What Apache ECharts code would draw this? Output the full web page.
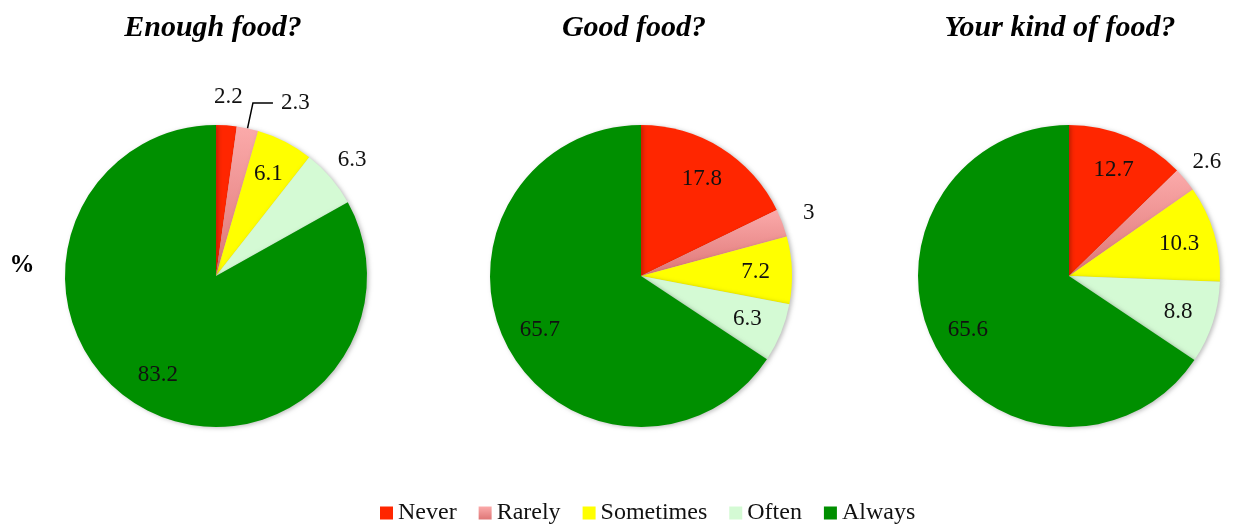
<!DOCTYPE html>
<html>
<head>
<meta charset="utf-8">
<script src="https://cdn.jsdelivr.net/npm/echarts@6/dist/echarts.min.js"></script>
<style>
html, body { margin: 0; padding: 0; background: #fff; }
#chart { width: 1234px; height: 526px; }
</style>
</head>
<body>
<div id="chart"></div>
<script>
// data
const categories = ['Never', 'Rarely', 'Sometimes', 'Often', 'Always'];
const titles = ['Enough food?', 'Good food?', 'Your kind of food?'];
const enoughFood = [2.2, 2.3, 6.1, 6.3, 83.2];
const goodFood = [17.8, 3, 7.2, 6.3, 65.7];
const kindOfFood = [12.7, 2.6, 10.3, 8.8, 65.6];
// where each value label goes: in = inside slice, out = outside, line = outside with leader line
const enoughLabels = ['out', 'line', 'in', 'out', 'in'];
const goodLabels = ['in', 'out', 'in', 'in', 'in'];
const kindLabels = ['in', 'out', 'in', 'in', 'in'];

const FONT = '"Liberation Serif", "DejaVu Serif", serif';
const R = 151;
const centers = [[216, 276], [641, 276], [1069, 276]];
const titleX = [213, 634, 1060];

const colors = [
    '#FF2600',
    new echarts.graphic.LinearGradient(0, 0, 0, 1, [
        { offset: 0, color: '#FBAAAA' },
        { offset: 1, color: '#DE7676' }
    ]),
    '#FFFF00',
    '#D4FAD4',
    '#008F00'
];

const labelText = {
    color: '#111',
    fontSize: 23,
    fontFamily: FONT
};

function pieSeries(values, where, center) {
    const base = {
        type: 'pie',
        center: center,
        startAngle: 90,
        clockwise: true,
        silent: true,
        animation: false,
        avoidLabelOverlap: false
    };
    // the pie itself (only the leader-line label lives here)
    const main = Object.assign({}, base, {
        radius: [0, R],
        itemStyle: { borderWidth: 0, shadowColor: 'rgba(0,0,0,0.25)', shadowBlur: 4, shadowOffsetX: 2, shadowOffsetY: 1 },
        data: values.map((v, i) => ({
            name: categories[i],
            value: v,
            itemStyle: { color: colors[i] },
            label: where[i] === 'line'
                ? Object.assign({ show: true, position: 'outside', formatter: '{c}', distanceToLabelLine: 8, padding: [0, 0, 8, 0] }, labelText)
                : { show: false },
            labelLine: where[i] === 'line'
                ? { show: true, length: 26, length2: 20, lineStyle: { color: '#000', width: 1.5 } }
                : { show: false }
        }))
    });
    // transparent ring carrying the inside labels
    const inner = Object.assign({}, base, {
        radius: [R * 0.48, R],
        itemStyle: { color: 'transparent', borderWidth: 0 },
        labelLine: { show: false },
        data: values.map((v, i) => ({
            name: categories[i],
            value: v,
            label: Object.assign({ show: where[i] === 'in', position: 'inside', formatter: '{c}' }, labelText)
        }))
    });
    // transparent ring outside the pie carrying the outside labels
    const outer = Object.assign({}, base, {
        radius: [R + 6, R + 44],
        itemStyle: { color: 'transparent', borderWidth: 0 },
        labelLine: { show: false },
        data: values.map((v, i) => ({
            name: categories[i],
            value: v,
            label: Object.assign({ show: where[i] === 'out', position: 'inside', formatter: '{c}' }, labelText)
        }))
    });
    return [main, inner, outer];
}

const chart = echarts.init(document.getElementById('chart'));

const titleList = titles.map((t, i) => ({
    text: t,
    left: titleX[i],
    top: 13,
    padding: 0,
    textAlign: 'center',
    textStyle: { fontFamily: FONT, fontStyle: 'italic', fontWeight: 'bold', fontSize: 30, color: '#000' }
}));
titleList.push({
    text: '%',
    left: 22,
    top: 253,
    padding: 0,
    textAlign: 'center',
    textStyle: { fontFamily: FONT, fontWeight: 'bold', fontSize: 25, color: '#000' }
});

chart.setOption({
    backgroundColor: '#fff',
    title: titleList,
    legend: {
        data: categories,
        left: 380,
        top: 501,
        icon: 'rect',
        itemWidth: 13,
        itemHeight: 13,
        itemGap: 22,
        padding: 0,
        selectedMode: false,
        textStyle: { fontFamily: FONT, fontSize: 24, color: '#111' }
    },
    series: [].concat(
        pieSeries(enoughFood, enoughLabels, centers[0]),
        pieSeries(goodFood, goodLabels, centers[1]),
        pieSeries(kindOfFood, kindLabels, centers[2])
    )
});
</script>
</body>
</html>
